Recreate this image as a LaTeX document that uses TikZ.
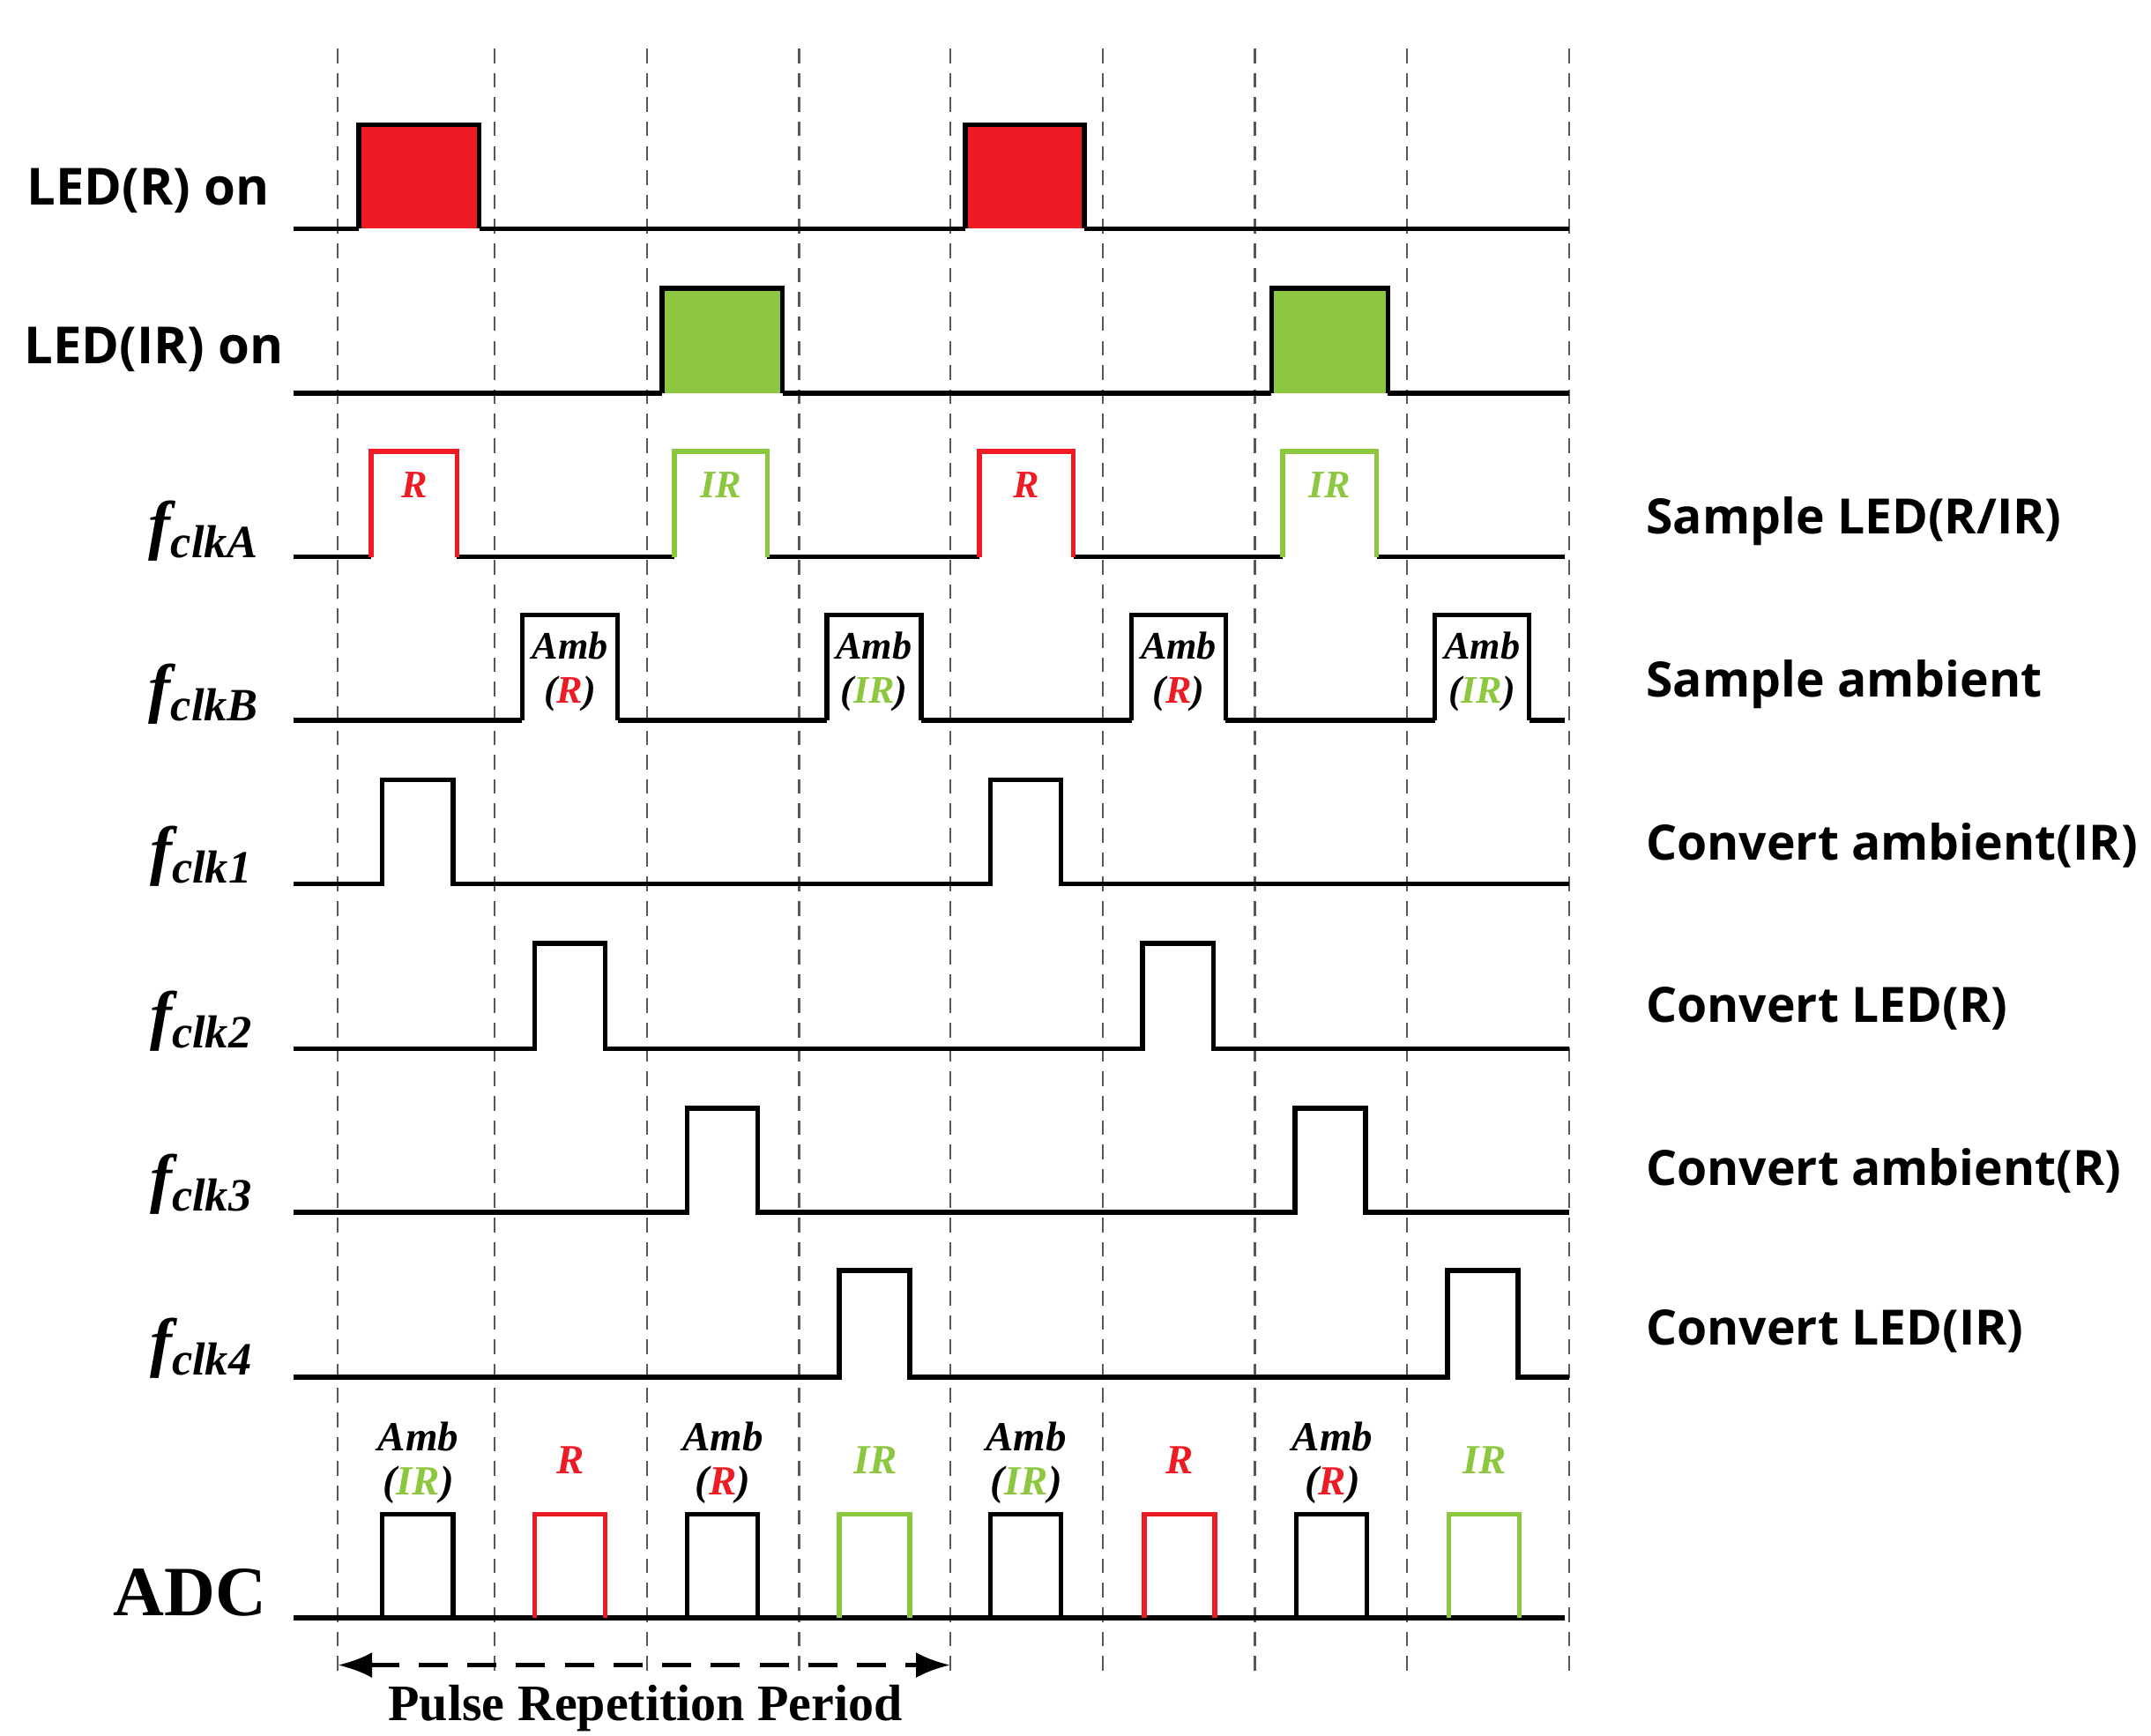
\documentclass[tikz,border=0pt]{standalone}
\usepackage{fontspec}
\setmainfont{Liberation Serif}
\newfontfamily\lblfont{Open Sans}
\usetikzlibrary{arrows.meta}
\definecolor{ledred}{HTML}{ED1C24}
\definecolor{ledgreen}{HTML}{8DC63F}
\tikzset{
 sig/.style={line width=1pt,draw=black},
 vgrid/.style={line width=0.4pt,gray!70!black, dash pattern=on 3pt off 2pt},
 leftlbl/.style={font=\lblfont\bfseries\fontsize{10.5}{13}\selectfont},
 rightlbl/.style={anchor=west,font=\lblfont\bfseries\fontsize{10}{13}\selectfont},
 flbl/.style={font=\bfseries\itshape\fontsize{13.5}{16}\selectfont},
 plbl/.style={font=\bfseries\itshape\fontsize{8}{9}\selectfont}
}
\newcommand{\fc}[1]{f\raisebox{-0.35ex}{\fontsize{9.5}{10}\selectfont clk#1}}
\begin{document}
\begin{tikzpicture}[x=0.01cm,y=-0.01cm]
\useasboundingbox (0,0) rectangle (1553,1253);
% grid
\foreach \x in {244,357,467,577,686,796,906,1016,1133}
  \draw[vgrid] (\x,35) -- (\x,1212);
% LED R
\foreach \a/\b in {259/346,697/783}
  \filldraw[sig,fill=ledred] (\a,165) -- (\a,90) -- (\b,90) -- (\b,165);
\draw[sig] (212,165) -- (259,165) (346,165) -- (697,165) (783,165) -- (1133,165);
% LED IR
\foreach \a/\b in {478/565,918/1002}
  \filldraw[sig,fill=ledgreen] (\a,284) -- (\a,208) -- (\b,208) -- (\b,284);
\draw[sig] (212,284) -- (478,284) (565,284) -- (918,284) (1002,284) -- (1133,284);
% fclkA
\draw[sig] (212,402) -- (268,402) (330,402) -- (487,402) (554,402) -- (707,402) (775,402) -- (926,402) (994,402) -- (1130,402);
\foreach \a/\b/\c/\t in {268/330/ledred/R,487/554/ledgreen/IR,707/775/ledred/R,926/994/ledgreen/IR}{
  \draw[sig,draw=\c] (\a,402) -- (\a,326) -- (\b,326) -- (\b,402);
  \node[plbl,text=\c] at ({(\a+\b)/2},350) {\t};}
% fclkB
\draw[sig] (212,520) -- (377,520) (446,520) -- (597,520) (665,520) -- (817,520) (885,520) -- (1036,520) (1104,520) -- (1130,520);
\foreach \a/\b/\c/\t in {377/446/ledred/R,597/665/ledgreen/IR,817/885/ledred/R,1036/1104/ledgreen/IR}{
  \draw[sig] (\a,520) -- (\a,444) -- (\b,444) -- (\b,520);
  \node[plbl] at ({(\a+\b)/2},466) {Amb};
  \node[plbl] at ({(\a+\b)/2},501) {(\textcolor{\c}{\t})};}
% fclk1-4
\foreach \y/\h/\a/\b in {638/563/276/715,757/681/386/825,875/800/496/935,994/917/606/1045}{
  \draw[sig] (212,\y) -- (\a,\y) -- (\a,\h) -- ({\a+51},\h) -- ({\a+51},\y) -- (\b,\y) -- (\b,\h) -- ({\b+51},\h) -- ({\b+51},\y) -- (1133,\y);}
% ADC
\draw[sig] (212,1168) -- (1130,1168);
\foreach \a/\c in {276/black,386/ledred,496/black,606/ledgreen,715/black,826/ledred,936/black,1046/ledgreen}{
  \draw[sig,draw=\c] (\a,1168) -- (\a,1093) -- ({\a+51},1093) -- ({\a+51},1168);}
\tikzset{alb/.style={font=\bfseries\itshape\fontsize{8.5}{10}\selectfont}}
\foreach \a in {276,715}{
  \node[alb] at ({\a+26},1037) {Amb};
  \node[alb] at ({\a+26},1072) {(\textcolor{ledgreen}{IR})};}
\foreach \a in {496,936}{
  \node[alb] at ({\a+26},1037) {Amb};
  \node[alb] at ({\a+26},1072) {(\textcolor{ledred}{R})};}
\foreach \a in {386,826}
  \node[alb,text=ledred] at ({\a+26},1054) {R};
\foreach \a in {606,1046}
  \node[alb,text=ledgreen] at ({\a+26},1054) {IR};
% period arrow
\coordinate (pa) at (244,1202); \coordinate (pb) at (686,1202);
\draw[line width=0.9pt,{Latex[length=7pt]}-{Latex[length=7pt]}, dash pattern=on 6pt off 4pt] (pa) -- (pb);
\node[font=\bfseries\fontsize{10.5}{13}\selectfont] (period) at (466,1233) {Pulse Repetition Period};
% left labels
\node[leftlbl] (l1) at (107,138) {LED(R) on};
\node[leftlbl] (l2) at (111,252) {LED(IR) on};
\node[flbl] at (147,383) {\fc{A}};
\node[flbl] at (147,501) {\fc{B}};
\node[flbl] at (145,618) {\fc{1}};
\node[flbl] at (145,737) {\fc{2}};
\node[flbl] at (145,855) {\fc{3}};
\node[flbl] at (145,973) {\fc{4}};
\node[font=\bfseries\fontsize{14.5}{17}\selectfont] at (137,1150) {ADC};
% right labels
\node[rightlbl] at (1176,376) {Sample LED(R/IR)};
\node[rightlbl] at (1176,494) {Sample ambient};
\node[rightlbl] at (1176,610) {Convert ambient(IR)};
\node[rightlbl] at (1176,728) {Convert LED(R)};
\node[rightlbl] at (1176,845) {Convert ambient(R)};
\node[rightlbl] at (1176,961) {Convert LED(IR)};
\end{tikzpicture}
\end{document}
